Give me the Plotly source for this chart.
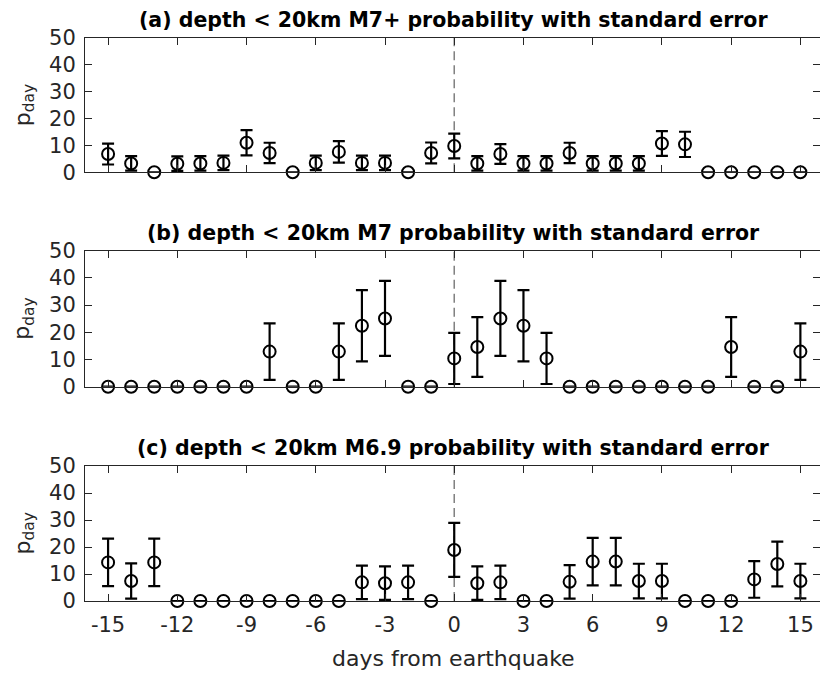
import plotly.graph_objects as go

days = list(range(-15, 16))

vals_a = [6.8, 3.3, 0, 3.2, 3.3, 3.5, 11.0, 7.2, 0, 3.5, 7.6, 3.5, 3.5, 0, 7.2,
          9.8,
          3.3, 6.8, 3.3, 3.3, 7.2, 3.3, 3.3, 3.3, 10.7, 10.4, 0, 0, 0, 0, 0]
err_a = [3.9, 2.7, 0, 2.7, 2.7, 2.7, 4.7, 3.8, 0, 2.7, 4.0, 2.7, 2.7, 0, 3.9,
         4.6,
         2.7, 3.7, 2.7, 2.7, 3.8, 2.7, 2.7, 2.7, 4.6, 4.7, 0, 0, 0, 0, 0]

vals_b = [0, 0, 0, 0, 0, 0, 0, 12.9, 0, 0, 12.9, 22.4, 25.1, 0, 0,
          10.4,
          14.6, 25.1, 22.4, 10.4, 0, 0, 0, 0, 0, 0, 0, 14.6, 0, 0, 12.9]
err_b = [0, 0, 0, 0, 0, 0, 0, 10.4, 0, 0, 10.4, 13.1, 13.8, 0, 0,
         9.4,
         11.0, 13.8, 13.1, 9.4, 0, 0, 0, 0, 0, 0, 0, 11.0, 0, 0, 10.4]

vals_c = [14.3, 7.4, 14.3, 0, 0, 0, 0, 0, 0, 0, 0, 6.9, 6.6, 6.9, 0,
          18.9,
          6.6, 6.9, 0, 0, 7.1, 14.6, 14.6, 7.4, 7.4, 0, 0, 0, 8.0, 13.7, 7.4]
err_c = [8.8, 6.5, 8.8, 0, 0, 0, 0, 0, 0, 0, 0, 6.2, 6.2, 6.2, 0,
         10.0,
         6.2, 6.2, 0, 0, 6.2, 8.8, 8.8, 6.4, 6.4, 0, 0, 0, 6.8, 8.3, 6.4]

titles = [
    "(a) depth < 20km M7+ probability with standard error",
    "(b) depth < 20km M7 probability with standard error",
    "(c) depth < 20km M6.9 probability with standard error",
]
x_ticks = [-15, -12, -9, -6, -3, 0, 3, 6, 9, 12, 15]
x_tick_text = ["-15", "-12", "-9", "-6", "-3", "0", "3", "6", "9", "12", "15"]
y_ticks = [0, 10, 20, 30, 40, 50]
x_label = "days from earthquake"
y_label = "p<sub>day</sub>"

W, H = 820, 677
FONT = "DejaVu Sans"
TXT = "#262626"

def px_x(x):
    return x / W

def px_y(y):
    return 1 - y / H

# pixel layout of the three axes boxes (top, bottom)
boxes = [(38, 172.3), (250.7, 386.7), (466, 601)]
left_px = 85

fig = go.Figure()
series = [(vals_a, err_a), (vals_b, err_b), (vals_c, err_c)]
for i, (v, e) in enumerate(series):
    xa = "x" if i == 0 else f"x{i+1}"
    ya = "y" if i == 0 else f"y{i+1}"
    fig.add_trace(go.Scatter(
        x=days, y=v, mode="markers", xaxis=xa, yaxis=ya,
        marker=dict(symbol="circle-open", size=12, color="black",
                    line=dict(width=2, color="black")),
        error_y=dict(type="data", array=e, visible=True, color="black",
                     thickness=2.2, width=6),
        cliponaxis=False, showlegend=False, hoverinfo="skip",
    ))

layout = dict(width=W, height=H, margin=dict(l=0, r=0, t=0, b=0),
              plot_bgcolor="white", paper_bgcolor="white",
              font=dict(family=FONT, color=TXT), showlegend=False)

shapes = []
annotations = []
for i, (top, bot) in enumerate(boxes):
    xk = "xaxis" if i == 0 else f"xaxis{i+1}"
    yk = "yaxis" if i == 0 else f"yaxis{i+1}"
    yname = "y" if i == 0 else f"y{i+1}"
    xname = "x" if i == 0 else f"x{i+1}"
    layout[xk] = dict(
        domain=[px_x(left_px), 1], range=[-16, 15.85], anchor=yname,
        tickvals=x_ticks, ticktext=x_tick_text, showticklabels=(i == 2),
        ticks="inside", ticklen=7,
        tickcolor=TXT, tickwidth=1, showline=True, mirror="ticks", linecolor=TXT,
        linewidth=1, showgrid=False, zeroline=False,
        tickfont=dict(family=FONT, size=21, color=TXT), ticklabelstandoff=5,
        automargin=False,
    )
    layout[yk] = dict(
        domain=[px_y(bot), px_y(top)], range=[0, 50], anchor=xname,
        tickvals=y_ticks, ticks="inside", ticklen=7, tickcolor=TXT, tickwidth=1,
        showline=True, mirror="ticks", linecolor=TXT, linewidth=1,
        showgrid=False, zeroline=False,
        tickfont=dict(family=FONT, size=21, color=TXT), ticklabelstandoff=4,
        automargin=False,
    )
    shapes.append(dict(type="line", xref=xname, yref=f"{yname} domain",
                       x0=0, x1=0, y0=0, y1=1, layer="below",
                       line=dict(color="#808080", width=1.5, dash="9px,5px")))
    annotations.append(dict(text=f"<b>{titles[i]}</b>", xref="paper", yref="paper",
                            x=px_x(453.5), y=px_y(top - 18), xanchor="center",
                            yanchor="middle", showarrow=False,
                            font=dict(family=FONT, size=20.5, color="black")))
    annotations.append(dict(text=y_label, xref="paper", yref="paper",
                            x=px_x(24), y=px_y((top + bot) / 2), xanchor="center",
                            yanchor="middle", textangle=-90, showarrow=False,
                            font=dict(family=FONT, size=22, color=TXT)))

annotations.append(dict(text=x_label, xref="paper", yref="paper",
                        x=px_x(453.5), y=px_y(658), xanchor="center",
                        yanchor="middle", showarrow=False,
                        font=dict(family=FONT, size=22, color=TXT)))

layout["shapes"] = shapes
layout["annotations"] = annotations
fig.update_layout(**layout)
fig.write_html("out.html")
